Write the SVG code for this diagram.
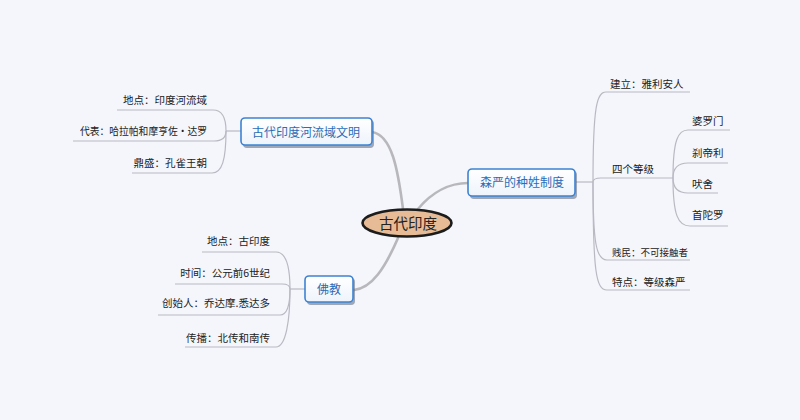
<svg xmlns="http://www.w3.org/2000/svg" width="800" height="420" viewBox="0 0 800 420">
<defs>
<linearGradient id="boxg" x1="0" y1="0" x2="0" y2="1">
<stop offset="0" stop-color="#ffffff"/>
<stop offset="1" stop-color="#eef4fc"/>
</linearGradient>
</defs>
<style>
.leaf{fill:none;stroke:#b9b9c2;stroke-width:1.2}
.main{fill:none;stroke:#b8b8bc;stroke-width:2.6;stroke-linecap:round}
.t{font-family:"Noto Sans CJK SC","Noto Sans",sans-serif;font-size:10.5px;fill:#222}
.ts{font-family:"Noto Sans CJK SC","Noto Sans",sans-serif;font-size:9.5px;fill:#222}
.nt{font-family:"Noto Sans CJK SC","Noto Sans",sans-serif;font-size:12px;fill:#2b6cb6;text-anchor:middle}
.box{fill:url(#boxg);stroke:#3d82d2;stroke-width:1.6}
.sh{fill:#4a5870;opacity:0.5}
</style>
<rect width="800" height="420" fill="#f4f6fc"/>
<g id="connectors">
<path class="main" d="M372,132 C392,135 398,170 403,209"/>
<path class="main" d="M418,209 C432,192 450,183 468,183"/>
<path class="main" d="M398,238 C385,268 372,288 354,290"/>
<path class="leaf" d="M117,110 H213 C222,110 226,117 226,131"/>
<path class="leaf" d="M73,141 H214 C222,141 226,137 226,131"/>
<path class="leaf" d="M132,173 H212 C222,173 226,160 226,131"/>
<path class="leaf" d="M226,131 H241"/>
<path class="leaf" d="M202,252 H276 C286,252 290,265 290,289"/>
<path class="leaf" d="M175,284 H282 C287,284 290,286 290,289"/>
<path class="leaf" d="M158,315 H280 C287,315 290,305 290,289"/>
<path class="leaf" d="M185,347 H276 C286,347 290,320 290,289"/>
<path class="leaf" d="M290,289 H305"/>
<path class="leaf" d="M576,182 H593"/>
<path class="leaf" d="M690,92 H606 C597,92 593,105 593,182"/>
<path class="leaf" d="M593,182 C593,179 596,178 601,178 H673"/>
<path class="leaf" d="M593,182 C593,242 596,260 607,260 H690"/>
<path class="leaf" d="M593,182 C593,272 596,290 607,290 H690"/>
<path class="leaf" d="M673,178 C673,140 678,130 688,130 H730"/>
<path class="leaf" d="M673,178 C673,168 678,163 688,163 H728"/>
<path class="leaf" d="M673,178 C673,188 678,193 688,193 H718"/>
<path class="leaf" d="M673,178 C673,215 678,226 690,226 H728"/>
</g>
<g id="center">
<ellipse cx="407" cy="223" rx="44.5" ry="13.5" fill="#e7bb96" stroke="#1c1c1c" stroke-width="2.6"/>
<text x="408" y="228.5" style="font-family:'Noto Sans CJK SC',sans-serif;font-size:14.5px;fill:#222;text-anchor:middle">古代印度</text>
</g>
<g id="n1">
<rect class="sh" x="243" y="120" width="131" height="28" rx="4"/>
<rect class="box" x="241" y="118" width="131" height="27" rx="4"/>
<text class="nt" x="306" y="136.5">古代印度河流域文明</text>
</g>
<g id="n2">
<rect class="sh" x="470" y="171" width="107" height="28" rx="4"/>
<rect class="box" x="468" y="169" width="107" height="27" rx="4"/>
<text class="nt" x="522" y="187">森严的种姓制度</text>
</g>
<g id="n3">
<rect class="sh" x="307" y="278" width="48" height="27" rx="4"/>
<rect class="box" x="305" y="276" width="48" height="26" rx="4"/>
<text class="nt" x="329" y="293.5">佛教</text>
</g>
<g id="leaves" class="t">
<text class="t" x="207" y="104" text-anchor="end">地点：印度河流域</text>
<text class="t" x="80" y="135" textLength="127" lengthAdjust="spacingAndGlyphs">代表：哈拉帕和摩亨佐·达罗</text>
<text class="t" x="207" y="167" text-anchor="end">鼎盛：孔雀王朝</text>
<text class="t" x="270" y="245" text-anchor="end">地点：古印度</text>
<text class="t" x="270" y="277" text-anchor="end">时间：公元前6世纪</text>
<text class="t" x="270" y="307" text-anchor="end">创始人：乔达摩.悉达多</text>
<text class="t" x="270" y="342" text-anchor="end">传播：北传和南传</text>
<text class="t" x="610" y="88">建立：雅利安人</text>
<text class="t" x="612" y="173">四个等级</text>
<text class="t" x="692" y="125">婆罗门</text>
<text class="t" x="692" y="157">刹帝利</text>
<text class="t" x="692" y="188">吠舍</text>
<text class="t" x="692" y="219">首陀罗</text>
<text class="ts" x="612" y="256">贱民：不可接触者</text>
<text class="t" x="612" y="286">特点：等级森严</text>
</g>
</svg>
